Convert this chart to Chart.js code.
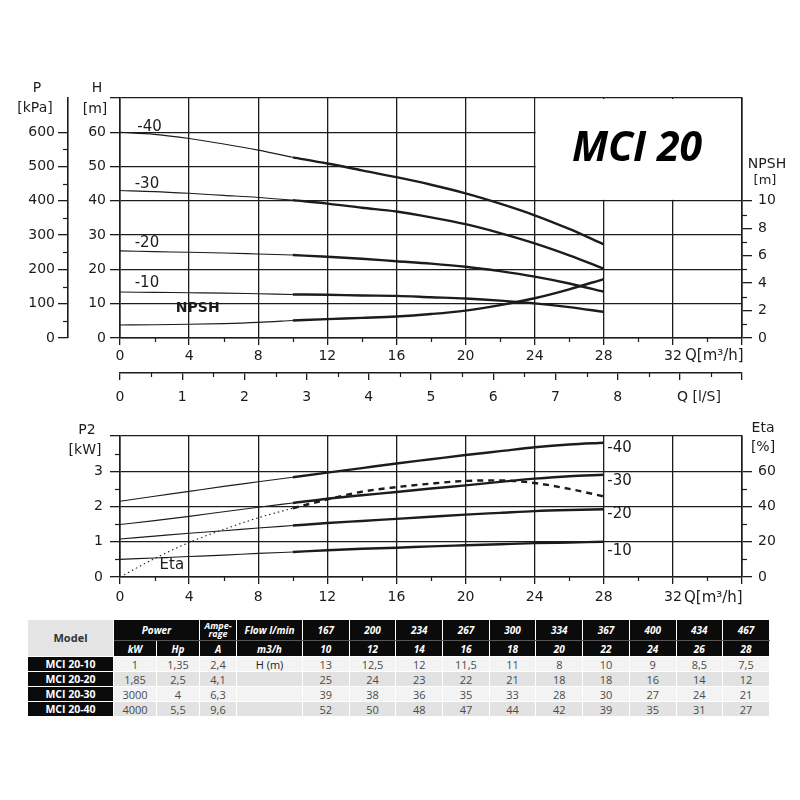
<!DOCTYPE html>
<html>
<head>
<meta charset="utf-8">
<script src="https://cdn.jsdelivr.net/npm/chart.js@4.4.1/dist/chart.umd.min.js"></script>
<style>
  html, body { margin: 0; padding: 0; background: #fff; }
  #wrap { position: relative; width: 800px; height: 800px; overflow: hidden; }
  #chartH { position: absolute; left: 0; top: 0; }
  #chartP { position: absolute; left: 0; top: 405px; }
  #tbl { position: absolute; left: 27px; top: 619px; width: 742px; border-collapse: collapse; table-layout: fixed;
         font-family: 'Open Sans', 'Noto Sans', sans-serif; }
  #tbl th, #tbl td { border: 1px solid #fff; padding: 0; text-align: center; white-space: nowrap; overflow: hidden; }
  #tbl tr.h1 th { height: 20px; line-height: 12px; background: #0b0b0b; color: #fff; font-style: italic; font-weight: bold; font-size: 10px;
                  border-bottom-color: #555; }
  #tbl tr.h2 th { height: 15px; line-height: 12px; background: #0b0b0b; color: #fff; font-style: italic; font-weight: bold; font-size: 10px; }
  #tbl th.model { background: #e4e4e4 !important; color: #333 !important; font-style: normal !important; font-size: 11px !important;
                  border-bottom-color: #fff !important; }
  #tbl th.amp { font-size: 9px !important; line-height: 8px !important; }
  #tbl td { height: 14px; line-height: 13px; font-size: 11px; color: #4a4a4a; }
  #tbl tr.r0 td { background: #f3f3f3; }
  #tbl tr.r1 td { background: #e2e2e2; }
  #tbl td.mc { background: #0b0b0b !important; color: #fff; font-weight: bold; font-size: 10.5px; }
  #tbl td.hm { color: #222; }
</style>
</head>
<body>
<div id="wrap">
  <canvas id="chartH" width="800" height="410"></canvas>
  <canvas id="chartP" width="800" height="205"></canvas>
  <table id="tbl"></table>
</div>
<script>
// 유량 Q [m3/h]
const flowQ   = [0, 2, 4, 6, 8, 10, 12, 14, 16, 18, 20, 22, 24, 26, 28];

// 양정 H [m] (MCI 20-10 ~ 20-40)
const head10  = [13.4, 13.3, 13.2, 13.1, 12.9, 12.7, 12.6, 12.4, 12.3, 11.9, 11.5, 10.9, 10.1, 9.0, 7.6];
const head20  = [25.4, 25.2, 25.0, 24.8, 24.5, 24.2, 23.7, 23.1, 22.4, 21.7, 20.8, 19.5, 17.9, 15.9, 13.5];
const head30  = [43.0, 42.7, 42.2, 41.6, 41.0, 40.2, 39.2, 38.0, 36.9, 35.2, 33.2, 30.6, 27.6, 24.1, 20.2];
const head40  = [60.0, 59.4, 58.2, 56.6, 54.8, 52.7, 50.9, 48.9, 46.9, 44.7, 42.2, 39.2, 35.8, 31.8, 27.3];
// NPSH [m]
const npsh    = [0.95, 0.97, 1.0, 1.05, 1.14, 1.28, 1.38, 1.47, 1.57, 1.75, 2.0, 2.4, 2.9, 3.55, 4.3];

// 축동력 P2 [kW]
const p2_10   = [0.50, 0.54, 0.58, 0.62, 0.67, 0.71, 0.76, 0.80, 0.83, 0.87, 0.90, 0.93, 0.96, 0.98, 1.00];
const p2_20   = [1.08, 1.16, 1.24, 1.31, 1.39, 1.46, 1.53, 1.59, 1.65, 1.71, 1.77, 1.82, 1.87, 1.90, 1.92];
const p2_30   = [1.49, 1.60, 1.72, 1.85, 1.98, 2.10, 2.22, 2.32, 2.41, 2.51, 2.60, 2.70, 2.79, 2.86, 2.90];
const p2_40   = [2.15, 2.29, 2.43, 2.57, 2.70, 2.83, 2.96, 3.09, 3.22, 3.34, 3.46, 3.57, 3.68, 3.76, 3.81];
// 효율 Eta [%]
const eta     = [0, 10.5, 19.6, 27.0, 33.6, 39.0, 44.0, 48.4, 51.0, 53.0, 54.5, 54.8, 53.3, 50.0, 45.7];

// 표 데이터
const flowLmin  = [167, 200, 234, 267, 300, 334, 367, 400, 434, 467];
const flowM3h   = [10, 12, 14, 16, 18, 20, 22, 24, 26, 28];
const models    = ['MCI 20-10', 'MCI 20-20', 'MCI 20-30', 'MCI 20-40'];
const powerKw   = ['1', '1,85', '3000', '4000'];
const powerHp   = ['1,35', '2,5', '4', '5,5'];
const ampere    = ['2,4', '4,1', '6,3', '9,6'];
const headRow10 = ['13', '12,5', '12', '11,5', '11', '8', '10', '9', '8,5', '7,5'];
const headRow20 = ['25', '24', '23', '22', '21', '18', '18', '16', '14', '12'];
const headRow30 = ['39', '38', '36', '35', '33', '28', '30', '27', '24', '21'];
const headRow40 = ['52', '50', '48', '47', '44', '42', '39', '35', '31', '27'];

//========================================================//
// 공통
//--------------------------------------------------------//
const INK  = '#1c1c1c';
const FONT = "'DejaVu Sans', 'Liberation Sans', sans-serif";

// 구간 잘라내기 (가는선 0~10, 굵은선 10~28)
function part(ys, from, to) {
	return flowQ.map(function(q, i) { return {x: q, y: ys[i]}; })
	            .filter(function(p) { return p.x >= from && p.x <= to; });
}

function curve(ys, axis, thick, dash) {
	return {
		data: thick ? part(ys, 10, 28) : part(ys, 0, 10),
		yAxisID: axis,
		borderColor: INK,
		borderWidth: thick ? 2.4 : 1.1,
		borderDash: dash || [],
		pointRadius: 0,
		cubicInterpolationMode: 'monotone',
		fill: false
	};
}

// 보조 눈금
function minorPlugin(list) {
	return {
		id: 'minorTicks',
		afterDraw: function(chart) {
			let ctx = chart.ctx;
			ctx.save();
			ctx.strokeStyle = INK;
			ctx.lineWidth = 1.2;
			list.forEach(function(m) {
				let s = chart.scales[m.axis];
				m.values.forEach(function(v) {
					let p = Math.round(s.getPixelForValue(v)) + 0.5;
					ctx.beginPath();
					if (s.position === 'bottom') {
						ctx.moveTo(p, s.top); ctx.lineTo(p, s.top + m.len);
					} else if (s.position === 'left') {
						ctx.moveTo(s.right, p); ctx.lineTo(s.right - m.len, p);
					} else {
						ctx.moveTo(s.left, p); ctx.lineTo(s.left + m.len, p);
					}
					ctx.stroke();
				});
			});
			ctx.restore();
		}
	};
}

// 텍스트
function textPlugin(items) {
	return {
		id: 'texts',
		afterDraw: function(chart) {
			let ctx = chart.ctx;
			items.forEach(function(t) {
				ctx.save();
				ctx.font = t.font || ('14px ' + FONT);
				ctx.fillStyle = t.color || INK;
				ctx.textAlign = t.align || 'center';
				ctx.textBaseline = 'middle';
				let x = t.q !== undefined ? chart.scales.x.getPixelForValue(t.q) : t.x;
				let y = t.v !== undefined ? chart.scales[t.axis || 'y'].getPixelForValue(t.v) : t.y;
				ctx.fillText(t.text, x, y);
				ctx.restore();
			});
		}
	};
}

function range(from, to, step) {
	let a = [];
	for (let v = from; v <= to + 1e-9; v += step) a.push(+v.toFixed(3));
	return a;
}

const gridOpt = function(len, onArea) {
	return { color: INK, lineWidth: 1.3, tickLength: len, tickColor: INK, tickWidth: 1.3, drawOnChartArea: onArea };
};
const tickFont = { family: FONT, size: 14 };

//========================================================//
// 상단 차트 : H / NPSH
//--------------------------------------------------------//
const boxPlugin = {
	id: 'titleBox',
	beforeDatasetsDraw: function(chart) {
		let x = chart.scales.x, y = chart.scales.y, ctx = chart.ctx;
		let l = x.getPixelForValue(24) + 1, r = x.getPixelForValue(36) - 1;
		let t = y.getPixelForValue(70) + 1, b = y.getPixelForValue(40) - 1;
		ctx.save();
		ctx.fillStyle = '#fff';
		ctx.fillRect(l, t, r - l, b - t);
		ctx.restore();
	}
};

new Chart(document.getElementById('chartH'), {
	type: 'line',
	data: {
		datasets: [
			curve(head40, 'y', false), curve(head40, 'y', true),
			curve(head30, 'y', false), curve(head30, 'y', true),
			curve(head20, 'y', false), curve(head20, 'y', true),
			curve(head10, 'y', false), curve(head10, 'y', true),
			curve(npsh, 'yN', false), curve(npsh, 'yN', true)
		]
	},
	options: {
		responsive: false,
		animation: false,
		layout: { padding: { top: 98, left: 0, right: 0, bottom: 0 } },
		plugins: { legend: { display: false }, tooltip: { enabled: false } },
		scales: {
			x: {
				type: 'linear', position: 'bottom', min: 0, max: 36,
				ticks: { stepSize: 4, autoSkip: false, maxRotation: 0, padding: 3, font: tickFont, color: INK,
				         callback: function(v) { return v === 36 ? '' : v; } },
				grid: gridOpt(7, true),
				border: { color: INK, width: 1.6 },
				afterFit: function(s) { s.height = 35; }
			},
			xls: {
				type: 'linear', axis: 'x', position: 'bottom', weight: 1, min: 0, max: 10,
				ticks: { stepSize: 1, autoSkip: false, maxRotation: 0, padding: 9, font: tickFont, color: INK,
				         callback: function(v) { return v <= 8 ? v : ''; } },
				grid: gridOpt(7, false),
				border: { color: INK, width: 1.6 },
				afterFit: function(s) { s.height = 37; }
			},
			y: {
				type: 'linear', position: 'left', weight: 0, min: 0, max: 70,
				ticks: { stepSize: 10, padding: 4, font: tickFont, color: INK,
				         callback: function(v) { return v === 70 ? '' : v; } },
				grid: gridOpt(10, true),
				border: { color: INK, width: 1.6 },
				afterFit: function(s) { s.width = 52; }
			},
			yP: {
				type: 'linear', axis: 'y', position: 'left', weight: 1, min: 0, max: 700,
				ticks: { stepSize: 100, padding: 3, font: tickFont, color: INK },
				afterBuildTicks: function(s) { s.ticks = s.ticks.filter(function(t) { return t.value <= 600; }); },
				grid: gridOpt(10, false),
				border: { color: INK, width: 1.6 },
				afterFit: function(s) { s.width = 68; }
			},
			yN: {
				type: 'linear', axis: 'y', position: 'right', min: 0, max: 17.5,
				ticks: { stepSize: 2, padding: 6, font: tickFont, color: INK },
				afterBuildTicks: function(s) { s.ticks = s.ticks.filter(function(t) { return t.value <= 10; }); },
				grid: gridOpt(10, false),
				border: { color: INK, width: 1.6 },
				afterFit: function(s) { s.width = 58; }
			}
		}
	},
	plugins: [
		boxPlugin,
		minorPlugin([
			{ axis: 'x',   values: range(2, 34, 4),     len: 4 },
			{ axis: 'xls', values: range(0.5, 9.5, 1),  len: 4 },
			{ axis: 'yP',  values: range(50, 550, 100), len: 5 },
			{ axis: 'yN',  values: range(1, 9, 2),      len: 5 }
		]),
		textPlugin([
			{ text: 'P',     x: 37, y: 88 },
			{ text: '[kPa]', x: 35, y: 108 },
			{ text: 'H',     x: 97, y: 88 },
			{ text: '[m]',   x: 95, y: 109 },
			{ text: 'NPSH',  x: 767, y: 164 },
			{ text: '[m]',   x: 765, y: 181, font: '13px ' + FONT },
			{ text: 'MCI 20', x: 637, y: 149, font: "italic bold 41px 'Open Sans', sans-serif", color: '#000' },
			{ text: 'Q[m³/h]', x: 685, y: 356, align: 'left', font: '15px ' + FONT },
			{ text: 'Q [l/S]', x: 677, y: 397, align: 'left' },
			{ text: '-40', q: 1.0, v: 61.5, align: 'left', font: '15px ' + FONT },
			{ text: '-30', q: 0.85, v: 44.9, align: 'left', font: '15px ' + FONT },
			{ text: '-20', q: 0.85, v: 27.7, align: 'left', font: '15px ' + FONT },
			{ text: '-10', q: 0.85, v: 16.0, align: 'left', font: '15px ' + FONT },
			{ text: 'NPSH', q: 4.5, v: 8.5, font: 'bold 14px ' + FONT }
		])
	]
});

//========================================================//
// 하단 차트 : P2 / Eta
//--------------------------------------------------------//
new Chart(document.getElementById('chartP'), {
	type: 'line',
	data: {
		datasets: [
			curve(p2_40, 'y', false), curve(p2_40, 'y', true),
			curve(p2_30, 'y', false), curve(p2_30, 'y', true),
			curve(p2_20, 'y', false), curve(p2_20, 'y', true),
			curve(p2_10, 'y', false), curve(p2_10, 'y', true),
			curve(eta, 'yE', false, [1.5, 3]), curve(eta, 'yE', true, [6, 5])
		]
	},
	options: {
		responsive: false,
		animation: false,
		layout: { padding: { top: 31, left: 0, right: 0, bottom: 0 } },
		plugins: { legend: { display: false }, tooltip: { enabled: false } },
		scales: {
			x: {
				type: 'linear', position: 'bottom', min: 0, max: 36,
				ticks: { stepSize: 4, autoSkip: false, maxRotation: 0, padding: 5, font: tickFont, color: INK,
				         callback: function(v) { return v === 36 ? '' : v; } },
				grid: gridOpt(7, true),
				border: { color: INK, width: 1.6 },
				afterFit: function(s) { s.height = 33; }
			},
			y: {
				type: 'linear', position: 'left', min: 0, max: 4,
				ticks: { stepSize: 1, padding: 7, font: tickFont, color: INK,
				         callback: function(v) { return v === 4 ? '' : v; } },
				grid: gridOpt(10, true),
				border: { color: INK, width: 1.6 },
				afterFit: function(s) { s.width = 120; }
			},
			yE: {
				type: 'linear', axis: 'y', position: 'right', min: 0, max: 80,
				ticks: { stepSize: 20, padding: 6, font: tickFont, color: INK },
				afterBuildTicks: function(s) { s.ticks = s.ticks.filter(function(t) { return t.value <= 60; }); },
				grid: gridOpt(10, false),
				border: { color: INK, width: 1.6 },
				afterFit: function(s) { s.width = 58; }
			}
		}
	},
	plugins: [
		minorPlugin([
			{ axis: 'x',  values: range(2, 34, 4),     len: 4 },
			{ axis: 'y',  values: range(0.5, 3.5, 1),  len: 5 },
			{ axis: 'yE', values: range(10, 50, 20),   len: 5 }
		]),
		textPlugin([
			{ text: 'P2',   x: 87, y: 25 },
			{ text: '[kW]', x: 85, y: 45 },
			{ text: 'Eta',  x: 763, y: 23 },
			{ text: '[%]',  x: 763, y: 42 },
			{ text: 'Q[m³/h]', x: 684, y: 193, align: 'left', font: '15px ' + FONT },
			{ text: '-40', q: 28.2, v: 3.66, align: 'left', font: '15px ' + FONT },
			{ text: '-30', q: 28.2, v: 2.71, align: 'left', font: '15px ' + FONT },
			{ text: '-20', q: 28.2, v: 1.77, align: 'left', font: '15px ' + FONT },
			{ text: '-10', q: 28.2, v: 0.74, align: 'left', font: '15px ' + FONT },
			{ text: 'Eta', q: 3.0, v: 0.33, font: '15px ' + FONT }
		])
	]
});

//========================================================//
// 성능표
//--------------------------------------------------------//
(function() {
	const headRows = [headRow10, headRow20, headRow30, headRow40];
	let html = '<colgroup><col style="width:86px"><col style="width:43px"><col style="width:43px">'
	         + '<col style="width:37px"><col style="width:66px">'
	         + flowLmin.map(function() { return '<col style="width:46.7px">'; }).join('') + '</colgroup>';
	html += '<tr class="h1"><th class="model" rowspan="2">Model</th><th colspan="2">Power</th>'
	      + '<th class="amp">Ampe-<br>rage</th><th>Flow l/min</th>'
	      + flowLmin.map(function(v) { return '<th>' + v + '</th>'; }).join('') + '</tr>';
	html += '<tr class="h2"><th>kW</th><th>Hp</th><th>A</th><th>m3/h</th>'
	      + flowM3h.map(function(v) { return '<th>' + v + '</th>'; }).join('') + '</tr>';
	models.forEach(function(m, i) {
		html += '<tr class="r' + (i % 2) + '"><td class="mc">' + m + '</td><td>' + powerKw[i] + '</td><td>'
		      + powerHp[i] + '</td><td>' + ampere[i] + '</td><td class="hm">' + (i === 0 ? 'H (m)' : '') + '</td>'
		      + headRows[i].map(function(v) { return '<td>' + v + '</td>'; }).join('') + '</tr>';
	});
	document.getElementById('tbl').innerHTML = html;
})();
</script>
</body>
</html>
